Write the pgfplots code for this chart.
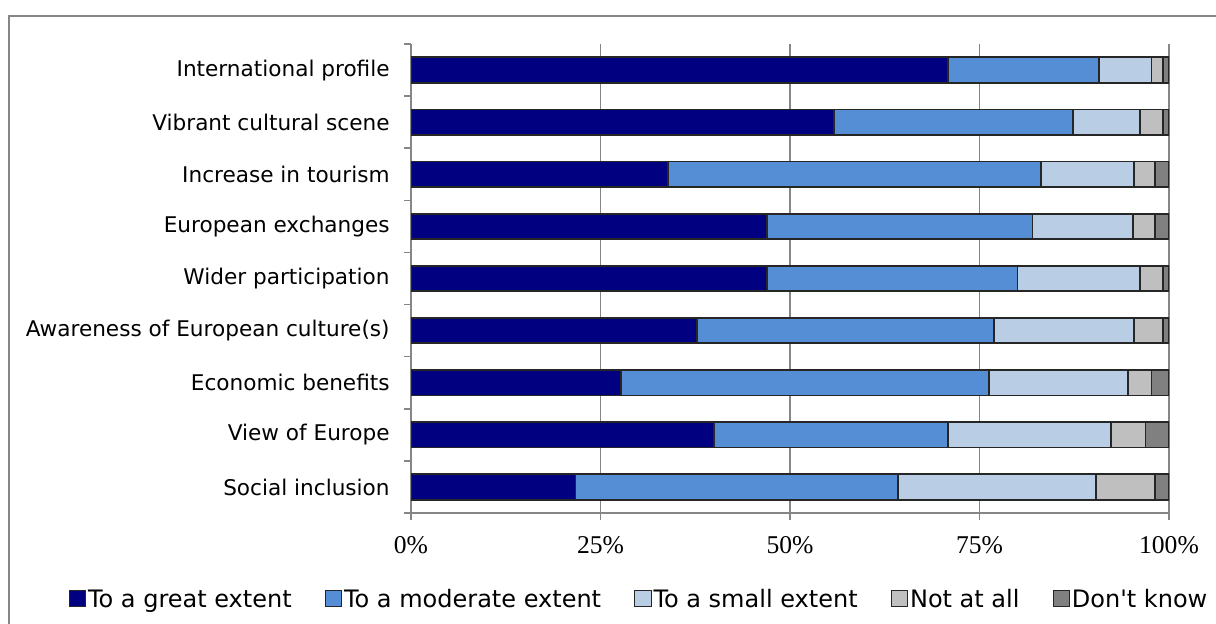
\documentclass[border=0pt]{standalone}
\usepackage{pgfplots}
\pgfplotsset{compat=1.18}
\usepackage{pgfplotstable}
\usepackage{fontspec}
\setmainfont{DejaVu Sans}
\newfontfamily\numfont{Liberation Serif}

\definecolor{cGreat}{HTML}{000080}
\definecolor{cModerate}{HTML}{558ED5}
\definecolor{cSmall}{HTML}{B9CDE5}
\definecolor{cNot}{HTML}{BFBFBF}
\definecolor{cDK}{HTML}{808080}
\definecolor{barEdge}{HTML}{262626}
\definecolor{gridGray}{HTML}{868686}

% Share of answers (%) per expected effect, top row first
\pgfplotstableread{
row great moderate small notatall dontknow
1 70.8 20.0  6.9 1.5 0.8
2 55.8 31.5  8.9 3.0 0.8
3 33.9 49.2 12.3 2.7 1.9
4 47.0 35.0 13.3 2.8 1.9
5 47.0 33.0 16.2 3.0 0.8
6 37.7 39.2 18.5 3.8 0.8
7 27.7 48.5 18.4 3.1 2.3
8 40.0 30.8 21.5 4.6 3.1
9 21.7 42.5 26.2 7.7 1.9
}\results

\begin{document}
\begin{tikzpicture}
\useasboundingbox (0,0) rectangle (608pt,311.5pt);
% chart frame
\draw[gridGray, line width=1pt] (4.5pt,-5pt) -- (4.5pt,303.5pt) -- (615pt,303.5pt);
\begin{axis}[
  at={(205.5pt,55pt)}, anchor=south west,
  scale only axis, width=379pt, height=234.5pt,
  xbar stacked, bar width=12.75pt,
  xmin=0, xmax=100, ymin=0.5, ymax=9.5, y dir=reverse,
  axis x line=bottom, axis y line=left,
  axis line style={-, draw=gridGray, line width=0.8pt},
  tick align=outside,
  major tick length=3.5pt, minor tick length=3.5pt,
  tick style={gridGray, line width=0.8pt},
  xtick={0,25,50,75,100},
  xticklabels={0\%,25\%,50\%,75\%,100\%},
  xticklabel style={font=\numfont\fontsize{12.8}{14}\selectfont, yshift=-4.5pt},
  ytick={1,...,9},
  yticklabels={International profile,Vibrant cultural scene,Increase in tourism,European exchanges,Wider participation,Awareness of European culture(s),Economic benefits,View of Europe,Social inclusion},
  yticklabel style={font=\fontsize{10.8}{12}\selectfont, inner xsep=0pt, xshift=-7pt},
  major y tick style={draw=none},
  minor ytick={0.5,1.5,...,9.5},
  xmajorgrids, major x grid style={gridGray, line width=0.8pt},
  legend columns=-1,
  legend style={at={(0.3008,-0.186)}, anchor=center, draw=none,
    font=\fontsize{12}{14}\selectfont, nodes={inner sep=1pt},
    /tikz/every even column/.append style={column sep=15.5pt}},
  legend image code/.code={\draw[#1, line width=0.5pt] (0pt,-3.2pt) rectangle (8.2pt,5pt);},
  every axis plot/.append style={draw=barEdge, line width=0.9pt},
]
\addplot[fill=cGreat]    table[x=great,    y=row]{\results};
\addplot[fill=cModerate] table[x=moderate, y=row]{\results};
\addplot[fill=cSmall]    table[x=small,    y=row]{\results};
\addplot[fill=cNot]      table[x=notatall, y=row]{\results};
\addplot[fill=cDK]       table[x=dontknow, y=row]{\results};
\legend{To a great extent,To a moderate extent,To a small extent,Not at all,Don\textquotesingle t know}
\end{axis}
\end{tikzpicture}
\end{document}
